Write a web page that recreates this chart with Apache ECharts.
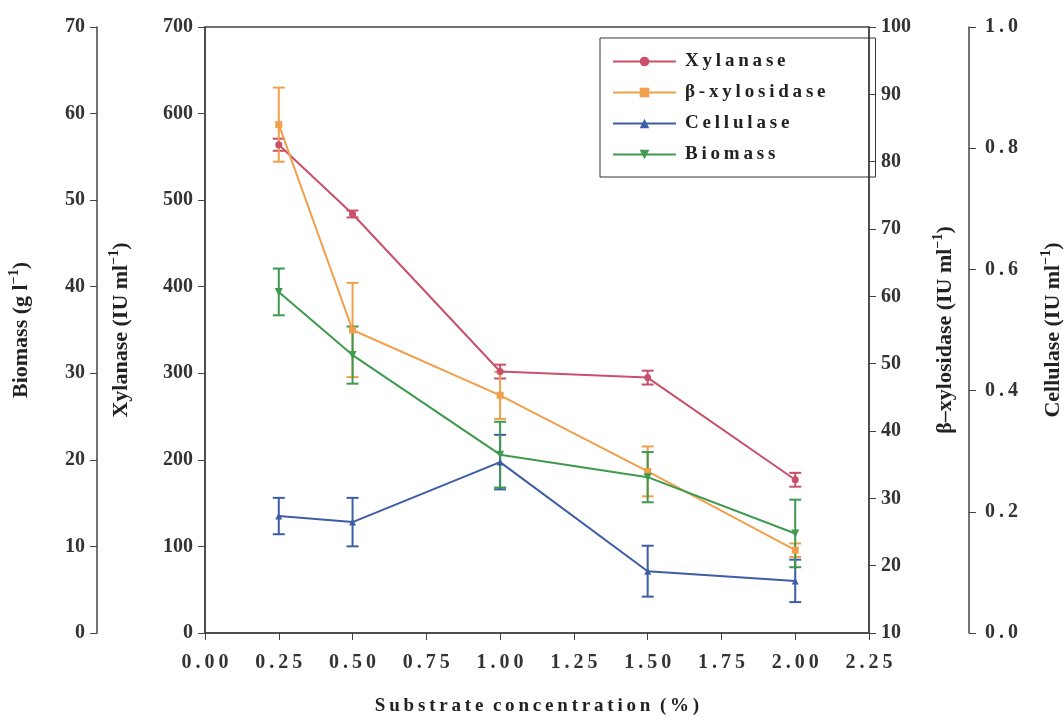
<!DOCTYPE html>
<html>
<head>
<meta charset="utf-8">
<script src="https://cdn.jsdelivr.net/npm/echarts@6/dist/echarts.min.js"></script>
<style>
  html, body { margin: 0; padding: 0; background: #fff; }
  #chart { width: 1064px; height: 718px; }
</style>
</head>
<body>
<div id="chart"></div>
<script>
  // substrate concentration (%)
  var conc = [0.25, 0.5, 1.0, 1.5, 2.0];

  // values and error (+/-)
  var xylanase = [564, 484, 302, 295, 177];
  var xylanaseErr = [7, 4, 8, 8, 8];
  var xylosidase = [85.5, 55, 45.3, 34, 22.3];
  var xylosidaseErr = [5.5, 7, 3.5, 3.7, 1];
  var cellulase = [0.193, 0.183, 0.282, 0.102, 0.086];
  var cellulaseErr = [0.03, 0.04, 0.045, 0.042, 0.035];
  var biomass = [39.4, 32.1, 20.6, 18.0, 11.5];
  var biomassErr = [2.7, 3.3, 3.8, 2.9, 3.9];

  var colors = {
    xylanase: '#c9506b',
    xylosidase: '#f0a04c',
    cellulase: '#3d5da6',
    biomass: '#3d9a4e'
  };

  var serif = '"Liberation Serif", "DejaVu Serif", serif';
  var axisColor = '#444';

  // the figure's text is letter-spaced; put a thin space between letters of each word
  function spaced(s) {
    return s.split(' ').map(function (w) {
      return w.split('').join('\u2009');
    }).join('  ');
  }

  function pts(vals) {
    return conc.map(function (c, i) { return [c, vals[i]]; });
  }
  function errs(vals, e) {
    return conc.map(function (c, i) { return [c, vals[i] - e[i], vals[i] + e[i]]; });
  }

  function errorSeries(name, yIdx, vals, e, color) {
    return {
      name: name + ' err',
      type: 'custom',
      yAxisIndex: yIdx,
      silent: true,
      z: 3,
      data: errs(vals, e),
      renderItem: function (params, api) {
        var lo = api.coord([api.value(0), api.value(1)]);
        var hi = api.coord([api.value(0), api.value(2)]);
        var w = 6;
        var style = { stroke: color, lineWidth: 2 };
        return {
          type: 'group',
          children: [
            { type: 'line', shape: { x1: lo[0], y1: lo[1], x2: hi[0], y2: hi[1] }, style: style },
            { type: 'line', shape: { x1: lo[0] - w, y1: lo[1], x2: lo[0] + w, y2: lo[1] }, style: style },
            { type: 'line', shape: { x1: hi[0] - w, y1: hi[1], x2: hi[0] + w, y2: hi[1] }, style: style }
          ]
        };
      }
    };
  }

  function lineSeries(name, yIdx, vals, color, symbol, size) {
    return {
      name: name,
      type: 'line',
      yAxisIndex: yIdx,
      data: pts(vals),
      symbol: symbol,
      symbolSize: size,
      z: 4,
      lineStyle: { color: color, width: 2 },
      itemStyle: { color: color }
    };
  }

  var nameRich = {
    a: { fontFamily: serif, fontWeight: 'bold', fontSize: 22, color: '#222', lineHeight: 28 },
    s: { fontFamily: serif, fontWeight: 'bold', fontSize: 14, color: '#222', verticalAlign: 'top', lineHeight: 28 }
  };

  function unitName(label) {
    return '{a|' + label + ' (IU ml}{s|−1}{a|)}';
  }

  function yAxis(opt) {
    var base = {
      type: 'value',
      nameLocation: 'middle',
      nameRotate: 90,
      nameTextStyle: { rich: nameRich },
      axisLine: { show: true, lineStyle: { color: axisColor, width: 1.5 } },
      axisTick: { show: true, inside: false, length: 7, lineStyle: { color: axisColor } },
      axisLabel: { fontFamily: serif, fontWeight: 'bold', fontSize: 20, color: '#333', margin: 12 },
      splitLine: { show: false }
    };
    return Object.assign(base, opt);
  }

  var chart = echarts.init(document.getElementById('chart'));
  var option = {
    backgroundColor: '#fff',
    animation: false,
    grid: {
      left: 205, right: 195, top: 27, bottom: 85,
      containLabel: false,
      outerBoundsMode: 'none',
      show: true, borderColor: axisColor, borderWidth: 1.5
    },
    legend: {
      orient: 'vertical',
      left: 600,
      top: 38,
      width: 245,
      padding: [14, 50, 13, 12],
      borderColor: '#333',
      borderWidth: 1,
      itemWidth: 63,
      itemHeight: 12,
      itemGap: 12,
      data: ['Xylanase', 'β-xylosidase', 'Cellulase', 'Biomass'],
      formatter: function (n) { return spaced(n); },
      textStyle: { fontFamily: serif, fontWeight: 'bold', fontSize: 19, color: '#222', padding: [0, 0, 0, 4] }
    },
    xAxis: {
      type: 'value',
      min: 0,
      max: 2.25,
      interval: 0.25,
      name: spaced('Substrate concentration (%)'),
      nameLocation: 'middle',
      nameGap: 64,
      nameTextStyle: { fontFamily: serif, fontWeight: 'bold', fontSize: 19, color: '#222' },
      axisLine: { lineStyle: { color: axisColor, width: 1.5 } },
      axisTick: { show: true, length: 7, lineStyle: { color: axisColor } },
      axisLabel: {
        fontFamily: serif, fontWeight: 'bold', fontSize: 20, color: '#333', margin: 20,
        formatter: function (v) { return spaced(v.toFixed(2)); }
      },
      splitLine: { show: false }
    },
    yAxis: [
      yAxis({ name: unitName('Xylanase'), position: 'left', min: 0, max: 700, interval: 100, nameGap: 70 }),
      yAxis({
        name: '{a|Biomass (g l}{s|−1}{a|)}', position: 'left', offset: 108,
        min: 0, max: 70, interval: 10, nameGap: 62
      }),
      yAxis({ name: unitName('β–xylosidase'), position: 'right', min: 10, max: 100, interval: 10, nameGap: 62 }),
      yAxis({
        name: unitName('Cellulase'), position: 'right', offset: 100, min: 0, max: 1, interval: 0.2, nameGap: 70,
        axisLabel: {
          fontFamily: serif, fontWeight: 'bold', fontSize: 20, color: '#333', margin: 16,
          formatter: function (v) { return spaced(v.toFixed(1)); }
        }
      })
    ],
    series: [
      errorSeries('Xylanase', 0, xylanase, xylanaseErr, colors.xylanase),
      errorSeries('β-xylosidase', 2, xylosidase, xylosidaseErr, colors.xylosidase),
      errorSeries('Cellulase', 3, cellulase, cellulaseErr, colors.cellulase),
      errorSeries('Biomass', 1, biomass, biomassErr, colors.biomass),
      lineSeries('Xylanase', 0, xylanase, colors.xylanase, 'circle', 7),
      lineSeries('β-xylosidase', 2, xylosidase, colors.xylosidase, 'rect', 7),
      lineSeries('Cellulase', 3, cellulase, colors.cellulase, 'triangle', 7),
      lineSeries('Biomass', 1, biomass, colors.biomass, 'path://M0,0 L10,0 L5,9 Z', 8)
    ]
  };
  chart.setOption(option);
</script>
</body>
</html>
